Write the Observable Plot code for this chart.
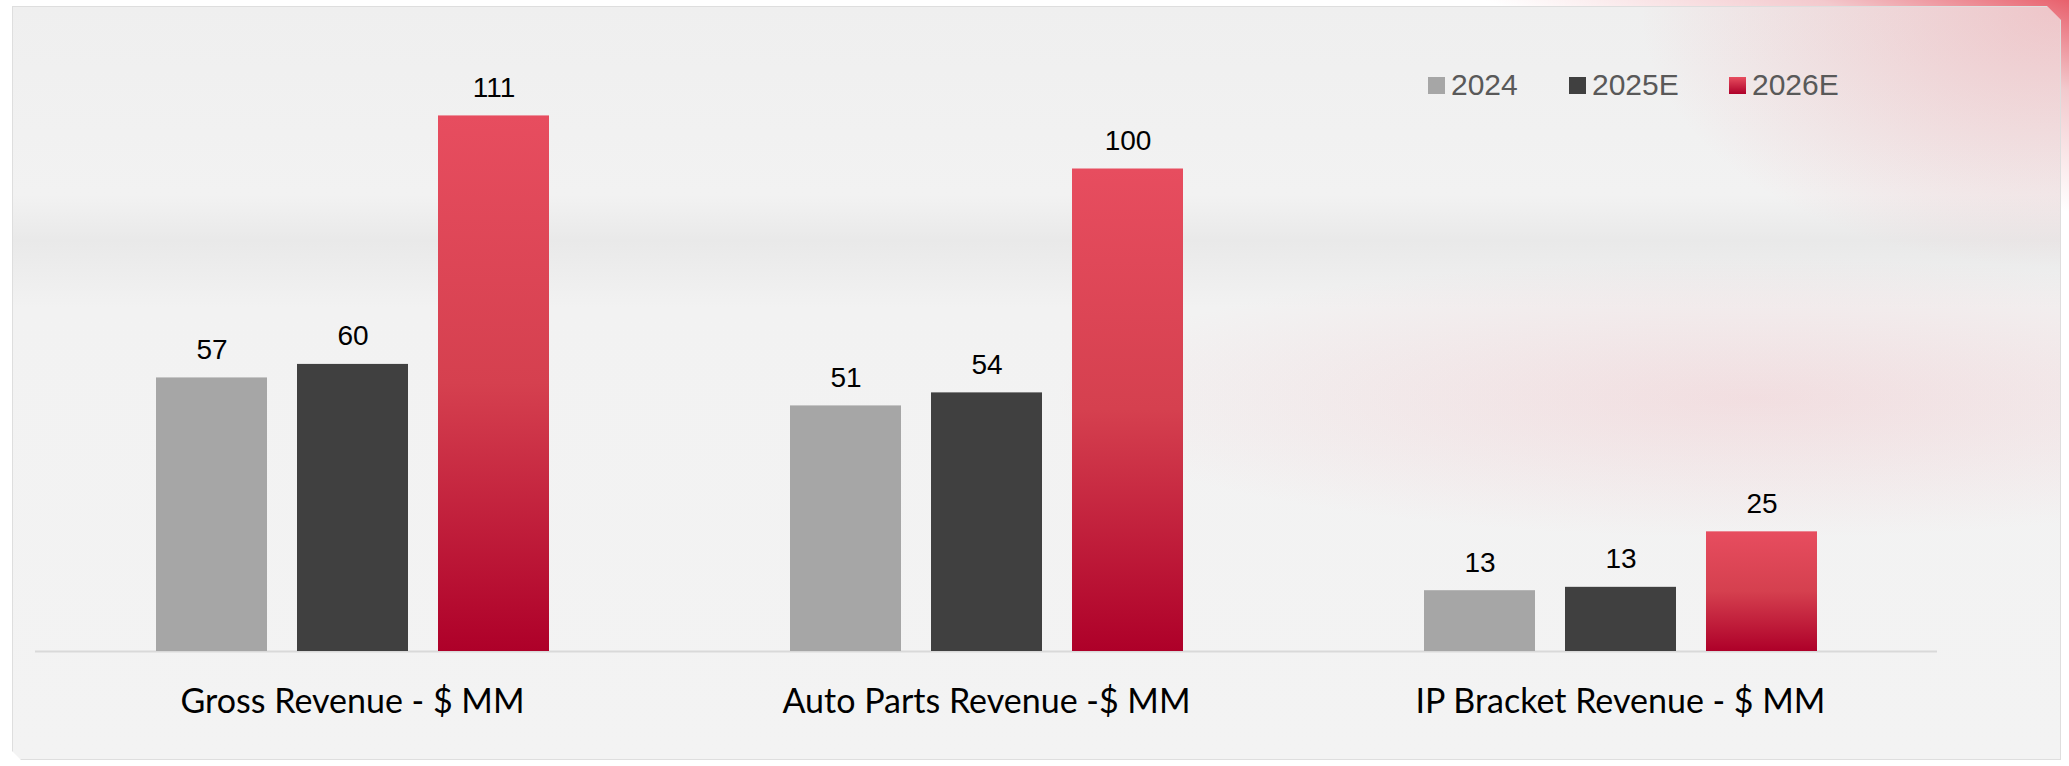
<!DOCTYPE html>
<html>
<head>
<meta charset="utf-8">
<script src="https://cdn.jsdelivr.net/npm/d3@7"></script>
<script src="https://cdn.jsdelivr.net/npm/@observablehq/plot@0.6"></script>
<style>
  html, body { margin: 0; padding: 0; background: #ffffff; }
  #wrap { position: relative; width: 2069px; height: 766px; overflow: hidden;
    background: linear-gradient(200deg, #e8606c 0%, #f3c9cd 6%, #ffffff 14%, #ffffff 100%); }
  #panel { position: absolute; left: 12px; top: 6px; width: 2049px; height: 754px;
    background:
      radial-gradient(ellipse 420px 260px at 100% 0%, rgba(236,120,130,0.35), rgba(236,120,130,0) 100%),
      radial-gradient(ellipse 700px 140px at 85% 52%, rgba(240,170,178,0.28), rgba(240,170,178,0) 100%),
      linear-gradient(180deg, #efefef 0%, #f2f2f2 25%, #e9e9e9 31%, #f2f2f2 40%, #f3f3f3 100%);
    border: 1px solid #dedede; box-sizing: border-box;
    clip-path: polygon(0 0, 2035px 0, 100% 14px, 100% 100%, 9px 100%, 0 745px); }
  #chart { position: absolute; left: 0; top: 0; }
  .leg { position: absolute; top: 70px; height: 30px; display: flex; align-items: center;
    font-family: "Liberation Sans", Arial, sans-serif; font-size: 30px; line-height: 30px; color: #595959; }
  .leg span.sw { display: inline-block; width: 17px; height: 17px; margin-right: 6px; }
</style>
</head>
<body>
<div id="wrap">
  <div id="panel"></div>
  <div id="chart"></div>
  <div id="legend"></div>
</div>
<script>
const categories = ["Gross Revenue - $ MM", "Auto Parts Revenue -$ MM", "IP Bracket Revenue - $ MM"];
const years = ["2024", "2025E", "2026E"];
const values2024  = [56.7, 50.9, 12.6];
const values2025E = [59.5, 53.6, 13.3];
const values2026E = [111.0, 100.0, 24.8];
const labels2024  = ["57", "51", "13"];
const labels2025E = ["60", "54", "13"];
const labels2026E = ["111", "100", "25"];
const yearColors = ["#a6a6a6", "#404040", "url(#redGrad)"];

const seriesVals = [values2024, values2025E, values2026E];
const seriesLabels = [labels2024, labels2025E, labels2026E];
const data = [];
categories.forEach((c, i) => {
  years.forEach((y, j) => {
    data.push({cat: c, year: y, value: seriesVals[j][i], label: seriesLabels[j][i]});
  });
});

const plot = Plot.plot({
  width: 2069,
  height: 766,
  marginLeft: 35,
  marginRight: 132,
  marginTop: 72,
  marginBottom: 115,
  style: {background: "transparent", overflow: "visible"},
  fx: {domain: categories, padding: 0, axis: null},
  x: {domain: years, paddingInner: 0.215, paddingOuter: 0.85, axis: null},
  y: {domain: [0, 120], axis: null},
  color: {domain: years, range: yearColors},
  marks: [
    Plot.ruleY([0], {stroke: "#d9d9d9", strokeWidth: 2}),
    Plot.barY(data, {fx: "cat", x: "year", y: "value", fill: "year"}),
    Plot.text(data, {fx: "cat", x: "year", y: "value", text: "label", dy: -19, lineAnchor: "bottom",
      fontSize: 28, fill: "#000000", fontFamily: "Liberation Sans, Arial, sans-serif"}),
    Plot.text(categories, {fx: d => d, text: d => d, frameAnchor: "bottom", dy: 61, lineAnchor: "bottom",
      fontSize: 34, fill: "#000000", fontFamily: "Lato, sans-serif"})
  ]
});

// gradient for the 2026E series
const ns = "http://www.w3.org/2000/svg";
const defs = document.createElementNS(ns, "defs");
defs.innerHTML = `<linearGradient id="redGrad" x1="0" y1="0" x2="0" y2="1">
  <stop offset="0%" stop-color="#e74d5f"/>
  <stop offset="50%" stop-color="#d5404f"/>
  <stop offset="100%" stop-color="#ae0029"/>
</linearGradient>`;
plot.insertBefore(defs, plot.firstChild);
document.getElementById("chart").appendChild(plot);

// legend
const legendLeft = [1428, 1569, 1729];
const legendSw = ["#a6a6a6", "#404040", "linear-gradient(180deg, #e74d5f, #ae0029)"];
const leg = document.getElementById("legend");
years.forEach((y, j) => {
  const d = document.createElement("div");
  d.className = "leg";
  d.style.left = legendLeft[j] + "px";
  const s = document.createElement("span");
  s.className = "sw";
  s.style.background = legendSw[j];
  d.appendChild(s);
  d.appendChild(document.createTextNode(y));
  leg.appendChild(d);
});
</script>
</body>
</html>
